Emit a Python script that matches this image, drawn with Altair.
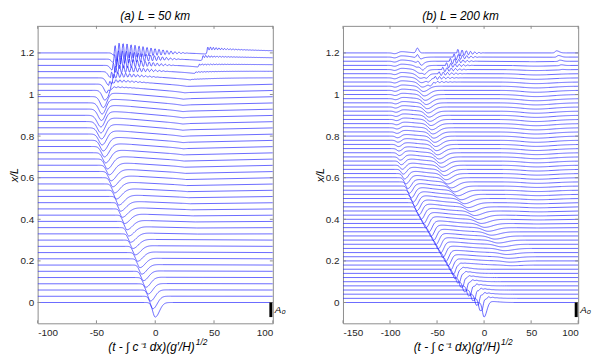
import numpy as np
import pandas as pd
import altair as alt

FONT = "Liberation Sans"
BLUE = "#2a2aff"
GRAY = "#8c8c8c"
W, H = 238, 301
Y_DOM = [-0.1, 1.33]
Y_TICKS = [0, 0.2, 0.4, 0.6, 0.8, 1, 1.2]
A0_LEN = 0.07

# ---------------- panel (a): L = 50 km ----------------
A_TITLE = "(a) L = 50 km"
A_XDOM = [-100, 100]
A_XTICKS = [-100, -50, 0, 50, 100]
A_X = [0.00, 0.03, 0.06, 0.09, 0.12, 0.15, 0.18, 0.21, 0.24, 0.27, 0.30, 0.33, 0.36, 0.39,
       0.42, 0.45, 0.48, 0.51, 0.54, 0.57, 0.60, 0.63, 0.66, 0.69, 0.72, 0.75, 0.78, 0.81,
       0.84, 0.87, 0.90, 0.93, 0.96, 0.99, 1.02, 1.05, 1.08, 1.11, 1.14, 1.17, 1.20]
A_TROUGH_T = [0, -2, -4, -6, -8, -10, -11.5, -13, -15, -17, -19, -21, -22.5, -24, -26, -28,
              -29.5, -31, -33, -34.5, -36, -37.5, -39, -40.5, -42, -43, -44, -45, -45.5, -46,
              -46, -45.5, -45, -44, -42.5, -41, -39.5, -38, -36.5, -35.5, -35]
A_D1_B = [0, 0.03, 0.06, 0.1, 0.2, 0.3, 0.45, 0.6, 0.75, 0.9, 0.99, 1.05, 1.11, 1.2]
A_D1 = [0.07, 0.06, 0.053, 0.048, 0.043, 0.041, 0.041, 0.045, 0.052, 0.058, 0.055, 0.045, 0.03, 0.012]
A_WL_B = [0, 0.5, 0.9, 1.2]
A_WL = [3, 2.5, 4.5, 2]
A_WR_B = [0, 0.3, 0.6, 0.9, 1.2]
A_WR = [5, 7, 7, 5, 2]
A_H2_B = [0, 0.2, 0.5, 0.7, 0.9, 1.05, 1.2]
A_H2 = [0.0, 0.003, 0.006, 0.012, 0.018, 0.015, 0.008]
A_W2_B = [0, 0.6, 1.2]
A_W2 = [15, 30, 35]
A_K3_B = [0.35, 0.45, 0.55, 0.65, 0.8, 0.95, 1.0, 1.05, 1.1, 1.14, 1.17, 1.2]
A_K3 = [36, 31, 27, 25, 23.5, 23.5, 24, 27, 33, 37, 40, 44]
A_D3_B = [0.3, 0.4, 0.5, 0.6, 0.8, 1.0, 1.1, 1.2]
A_D3 = [0.0, 0.003, 0.006, 0.009, 0.012, 0.013, 0.01, 0.006]
A_H4_B = [1.06, 1.1, 1.14, 1.17, 1.2]
A_H4 = [0.0, 0.005, 0.012, 0.02, 0.028]
A_A5_B = [1.0, 1.03, 1.06, 1.09, 1.12, 1.15, 1.18, 1.2]
A_A5 = [0.0, 0.005, 0.011, 0.018, 0.026, 0.033, 0.04, 0.045]
A_E5_B = [1.0, 1.1, 1.2]
A_E5 = [-15, 12, 30]

# ---------------- panel (b): L = 200 km ----------------
B_TITLE = "(b) L = 200 km"
B_XDOM = [-150, 100]
B_XTICKS = [-150, -100, -50, 0, 50, 100]
B_X = [0.00, 0.02, 0.04, 0.06, 0.08, 0.10, 0.12, 0.14, 0.16, 0.18, 0.20, 0.22, 0.24, 0.26,
       0.28, 0.30, 0.32, 0.34, 0.36, 0.38, 0.40, 0.42, 0.44, 0.46, 0.48, 0.50, 0.52, 0.54,
       0.56, 0.58, 0.60, 0.62, 0.64, 0.66, 0.68, 0.70, 0.72, 0.74, 0.76, 0.78, 0.80, 0.82,
       0.84, 0.86, 0.88, 0.90, 0.92, 0.94, 0.96, 0.98, 1.00, 1.02, 1.04, 1.06, 1.08, 1.10,
       1.12, 1.14, 1.16, 1.18, 1.20]
B_TROUGH1_T = [0, -4, -8, -12, -16.5, -21, -24.5, -28, -31, -33.5, -36, -38.5, -41, -44,
               -46.5, -49, -51.5, -54, -56.5, -59, -62, -64.5, -67, -69.5, -71.5, -73.5,
               -75.5, -77.5, -79.5, -81, -83, -84.5, -86, -87, -88, -89, -90, -90.5, -91,
               -91.5, -92, -92.5, -92.5, -93, -93, -93.5, -93.5, -94, -94, -94, -94.5,
               -94.5, -94.5, -95, -95, -95, -95, -95, -95, -95, -95]
NA = float("nan")
B_TROUGH2_T = [NA, NA, NA, NA, NA, NA, NA, NA, NA, 29, 27.5, 26, 24, 21.5, 18.4, 14.8, 11.3,
               7.7, 4.2, 0.6, -3, -6.5, -10, -13.6, -17.2, -20.8, -24.3, -27.9, -31.4, -35,
               -38.6, -40.5, -42, -43.5, -45, -46.5, -48, -49.5, -50.5, -51.5, -52.5, -53.5,
               -54.5, -55.5, -56.5, -57.5, -58.5, -59.5, -60.5, -61.5, -62.5, -63.5, -64.5,
               -65.5, -66.5, -67.5, -68, -68.5, -69, -69.5, -70]
B_D1_B = [0, 0.02, 0.04, 0.08, 0.2, 0.4, 0.54, 0.6, 0.66, 0.74, 0.84, 1.2]
B_D1 = [0.07, 0.06, 0.054, 0.049, 0.045, 0.042, 0.038, 0.03, 0.02, 0.012, 0.006, 0.004]
B_WL1_B = [0, 0.6, 1.2]
B_WL1 = [2.5, 3, 3]
B_WR1_B = [0, 0.6, 1.2]
B_WR1 = [4, 6, 4]
B_RIP_B = [0.0, 0.02, 0.08, 0.16, 0.22]
B_RIP = [0.0, 0.012, 0.012, 0.006, 0.0]
B_H3_B = [0, 0.1, 0.3, 0.5, 0.6, 0.8, 1.0, 1.2]
B_H3 = [0.005, 0.008, 0.012, 0.014, 0.012, 0.008, 0.006, 0.006]
B_D2_B = [0.16, 0.2, 0.3, 0.4, 0.5, 0.6, 0.8, 1.0, 1.1, 1.16, 1.2]
B_D2 = [0.0, 0.006, 0.014, 0.02, 0.025, 0.03, 0.03, 0.028, 0.022, 0.012, 0.0]
B_WL2_B = [0.2, 0.6, 1.2]
B_WL2 = [9, 6, 5]
B_WR2_B = [0.2, 0.6, 1.2]
B_WR2 = [14, 9, 7]
B_P6_B = [1.12, 1.16, 1.2]
B_P6 = [0.0, 0.012, 0.033]
B_L_B = [1.04, 1.06, 1.2]
B_L_T = [-56, -57, -71]
B_L_D = [0.0, 0.012, 0.01]
B_R_B = [1.04, 1.08, 1.12, 1.16, 1.2]
B_R_T = [-57, -53, -45, -37, -29]
B_R_A = [0.0, 0.008, 0.012, 0.015, 0.018]
B_D4_B = [0.3, 0.5, 0.8, 1.0, 1.1, 1.2]
B_D4 = [0.0, 0.006, 0.01, 0.01, 0.006, 0.0]
B_C4 = [60, 57, 55, 55, 55, 55]
B_A5_B = [1.1, 1.14, 1.17, 1.2]
B_A5 = [0.0, 0.004, 0.007, 0.01]
B_C5 = [84, 82, 80, 77]


def ip(b, xs, ys):
    return float(np.interp(b, xs, ys))


def asym(t, c, wl, wr):
    u = t - c
    w = np.where(u < 0, wl, wr)
    return np.exp(-(u / w) ** 2)


def cusp(t, c, wl, wr):
    u = t - c
    w = np.where(u < 0, wl, wr)
    return np.exp(-np.abs(u) / w)


def packet(t, s, e, amp, period):
    if amp <= 0 or e <= s:
        return np.zeros_like(t)
    env = np.clip((e - t) / (e - s), 0, 1) ** 1.3 * (t >= s)
    return amp * env * np.sin(2 * np.pi * (t - s) / period)


def step(t, c, h, w, tau):
    return h * 0.5 * (1 + np.tanh((t - c) / w)) * np.exp(-np.clip(t - c, 0, None) / tau)


def ripple(t, c, a, period, tau):
    u = np.clip(t - c, 0, None)
    return a * np.sin(2 * np.pi * u / period) * np.exp(-u / tau) * (t > c)


TA = np.arange(A_XDOM[0], A_XDOM[1] + 1e-9, 0.4)
TB = np.arange(B_XDOM[0], B_XDOM[1] + 1e-9, 0.5)


def trace_a(k):
    t = TA
    b = A_X[k]
    tc = A_TROUGH_T[k]
    v = -ip(b, A_D1_B, A_D1) * asym(t, tc, ip(b, A_WL_B, A_WL), ip(b, A_WR_B, A_WR))
    v += ip(b, A_H2_B, A_H2) * asym(t, tc + 7, 5, ip(b, A_W2_B, A_W2))
    k3 = ip(b, A_K3_B, A_K3)
    v -= ip(b, A_D3_B, A_D3) * cusp(t, k3, 14, 25)
    h4 = ip(b, A_H4_B, A_H4)
    v += step(t, k3, h4, 0.5, 60) + ripple(t, k3, 0.3 * h4, 2.4, 15)
    v += packet(t, tc, ip(b, A_E5_B, A_E5), ip(b, A_A5_B, A_A5), 3.4)
    return t, b + v


def trace_b(k):
    t = TB
    b = B_X[k]
    t1 = B_TROUGH1_T[k]
    t2 = B_TROUGH2_T[k]
    v = -ip(b, B_D1_B, B_D1) * asym(t, t1, ip(b, B_WL1_B, B_WL1), ip(b, B_WR1_B, B_WR1))
    v -= ripple(t, t1 + 1, ip(b, B_RIP_B, B_RIP), 4.5, 5)
    wr3 = 0.4 * (t2 - t1) if not np.isnan(t2) else 12
    v += ip(b, B_H3_B, B_H3) * asym(t, t1 + 7, 4, max(wr3, 6))
    if not np.isnan(t2):
        v -= ip(b, B_D2_B, B_D2) * asym(t, t2, ip(b, B_WL2_B, B_WL2), ip(b, B_WR2_B, B_WR2))
        v += ip(b, B_P6_B, B_P6) * asym(t, t2 - 1, 1.8, 2.5)
    if b >= 1.04:
        v -= ip(b, B_L_B, B_L_D) * asym(t, ip(b, B_L_B, B_L_T), 2, 3)
        sR = ip(b, B_R_B, B_R_T)
        v += packet(t, sR, sR + 30, ip(b, B_R_B, B_R_A), 4.5)
    v -= ip(b, B_D4_B, B_D4) * asym(t, ip(b, B_D4_B, B_C4), 20, 25)
    v += ip(b, B_A5_B, B_A5) * asym(t, ip(b, B_A5_B, B_C5), 2, 4)
    return t, b + v


def to_frame(traces):
    rows = []
    for k, (t, v) in enumerate(traces):
        keep = np.ones(len(t), dtype=bool)
        curv = np.abs(v[:-2] - 2 * v[1:-1] + v[2:])
        keep[1:-1] = curv > 2e-6
        for ti, vi in zip(t[keep], v[keep]):
            rows.append({"t": round(float(ti), 2), "v": round(float(vi), 5), "k": k})
    return pd.DataFrame(rows)


df_a = to_frame([trace_a(k) for k in range(len(A_X))])
df_b = to_frame([trace_b(k) for k in range(len(B_X))])


def panel(df, xdom, xticks, title):
    x_enc = alt.X("t:Q", scale=alt.Scale(domain=xdom, nice=False, zero=False),
                  axis=alt.Axis(values=xticks, title=None, ticks=False, domain=False, grid=False,
                                labelExpr="datum.value + ''", labelPadding=4))
    y_enc = alt.Y("v:Q", scale=alt.Scale(domain=Y_DOM, nice=False, zero=False),
                  axis=alt.Axis(values=Y_TICKS, title="x/L", ticks=False, domain=False, grid=False,
                                labelExpr="datum.value + ''", labelPadding=4,
                                titleFontStyle="italic", titleFontWeight="normal",
                                titleFontSize=11, titlePadding=0))
    lines = alt.Chart(df).mark_line(color=BLUE, strokeWidth=0.7, clip=True).encode(
        x=x_enc, y=y_enc, detail="k:N")
    xt = pd.DataFrame({"t": xticks})
    yt = pd.DataFrame({"v": Y_TICKS})
    tb = alt.Chart(xt).mark_rule(color=GRAY).encode(x=x_enc, y=alt.value(H), y2=alt.value(H - 3))
    tt = alt.Chart(xt).mark_rule(color=GRAY).encode(x=x_enc, y=alt.value(0), y2=alt.value(3))
    tl = alt.Chart(yt).mark_rule(color=GRAY).encode(y=y_enc, x=alt.value(0), x2=alt.value(3))
    tr = alt.Chart(yt).mark_rule(color=GRAY).encode(y=y_enc, x=alt.value(W), x2=alt.value(W - 3))
    bar = alt.Chart(pd.DataFrame({"v": [0.0], "v2": [-A0_LEN]})).mark_rule(
        color="black", strokeWidth=3).encode(x=alt.value(W - 2), y=y_enc, y2="v2:Q")
    a0 = alt.Chart(pd.DataFrame({"v": [-A0_LEN / 2], "s": ["A\u2080"]})).mark_text(
        align="left", baseline="middle", font=FONT, fontSize=10, fontStyle="italic",
        color="black").encode(x=alt.value(W + 2), y=y_enc, text="s:N")
    cx = W / 2
    xt1 = alt.Chart(pd.DataFrame({"s": ["(t - \u222b c\u207b\u00b9 dx)(g\u2032/H)"]})).mark_text(
        align="right", baseline="middle", font=FONT, fontSize=12, fontStyle="italic",
        color="black").encode(x=alt.value(cx + 40), y=alt.value(H + 24), text="s:N")
    xt2 = alt.Chart(pd.DataFrame({"s": ["1/2"]})).mark_text(
        align="left", baseline="middle", font=FONT, fontSize=8.5, fontStyle="italic",
        color="black").encode(x=alt.value(cx + 41), y=alt.value(H + 19), text="s:N")
    return alt.layer(lines, tb, tt, tl, tr, bar, a0, xt1, xt2).properties(
        width=W, height=H,
        title=alt.TitleParams(title, font=FONT, fontSize=12, fontStyle="italic",
                              fontWeight="normal", offset=2, anchor="middle"))


chart = alt.hconcat(
    panel(df_a, A_XDOM, A_XTICKS, A_TITLE),
    panel(df_b, B_XDOM, B_XTICKS, B_TITLE),
    spacing=71, bounds="flush",
).properties(padding={"left": 0, "top": 0, "right": 0, "bottom": 0}).configure_view(
    stroke=GRAY, strokeWidth=1
).configure_axis(
    labelFont=FONT, labelFontSize=10, labelColor="#262626", titleFont=FONT, titleColor="black"
)

chart.save("out.html", embed_options={"renderer": "svg", "actions": False})
